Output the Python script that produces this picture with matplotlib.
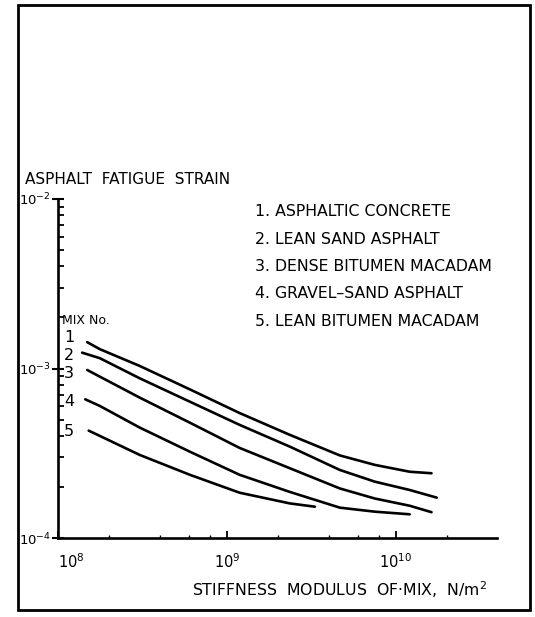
import matplotlib
matplotlib.use("Agg")
import matplotlib.pyplot as plt
from matplotlib.patches import Rectangle
from matplotlib.ticker import LogLocator, NullFormatter

plt.rcParams['font.family'] = ['DejaVu Sans']

# stiffness modulus (N/m2) and fatigue strain
mix1_E = [1.49e8, 1.77e8, 3.05e8, 6.04e8, 1.19e9, 2.36e9, 4.67e9, 7.52e9, 1.21e10, 1.63e10]
mix1_strain = [1.43e-3, 1.30e-3, 1.035e-3, 7.53e-4, 5.46e-4, 4.06e-4, 3.07e-4, 2.70e-4, 2.46e-4, 2.41e-4]

mix2_E = [1.39e8, 1.77e8, 3.05e8, 6.04e8, 1.19e9, 2.36e9, 4.67e9, 7.52e9, 1.21e10, 1.75e10]
mix2_strain = [1.24e-3, 1.15e-3, 8.75e-4, 6.37e-4, 4.65e-4, 3.46e-4, 2.52e-4, 2.15e-4, 1.92e-4, 1.73e-4]

mix3_E = [1.49e8, 1.77e8, 3.05e8, 6.04e8, 1.19e9, 2.36e9, 4.67e9, 7.52e9, 1.21e10, 1.63e10]
mix3_strain = [9.8e-4, 8.95e-4, 6.73e-4, 4.79e-4, 3.40e-4, 2.58e-4, 1.96e-4, 1.71e-4, 1.55e-4, 1.42e-4]

mix4_E = [1.45e8, 1.77e8, 3.05e8, 6.04e8, 1.19e9, 2.36e9, 4.67e9, 7.52e9, 1.21e10]
mix4_strain = [6.58e-4, 6.01e-4, 4.48e-4, 3.23e-4, 2.36e-4, 1.87e-4, 1.51e-4, 1.43e-4, 1.38e-4]

mix5_E = [1.52e8, 1.77e8, 3.05e8, 6.04e8, 1.19e9, 2.36e9, 3.32e9]
mix5_strain = [4.30e-4, 4.00e-4, 3.09e-4, 2.36e-4, 1.85e-4, 1.60e-4, 1.53e-4]

mix_names = ["1. ASPHALTIC CONCRETE", "2. LEAN SAND ASPHALT", "3. DENSE BITUMEN MACADAM",
             "4. GRAVEL\u2013SAND ASPHALT", "5. LEAN BITUMEN MACADAM"]
mix_numbers = ["1", "2", "3", "4", "5"]

# where the mix numbers sit, in pixels from the top-left corner
number_pos = [(69, 337), (69, 355), (69, 373), (69, 401), (69, 432)]

W, H = 535, 617
fig = plt.figure(figsize=(W / 100, H / 100), dpi=100)
ax = fig.add_axes([58 / W, 1 - 538 / H, 439 / W, 339 / H])

curves = [(mix1_E, mix1_strain), (mix2_E, mix2_strain), (mix3_E, mix3_strain),
          (mix4_E, mix4_strain), (mix5_E, mix5_strain)]
for (E, s), num, (px, py) in zip(curves, mix_numbers, number_pos):
    ax.plot(E, s, color='black', lw=1.9, solid_capstyle='round', solid_joinstyle='round')
    fig.text(px / W, 1 - py / H, num, ha='center', va='center', fontsize=11.5)

ax.set_xscale('log')
ax.set_yscale('log')
ax.set_xlim(1e8, 10 ** 10.6)
ax.set_ylim(1e-4, 1e-2)

for side in ['top', 'right']:
    ax.spines[side].set_visible(False)
for side in ['left', 'bottom']:
    ax.spines[side].set_linewidth(1.9)

ax.set_yticks([1e-4, 1e-3, 1e-2])
ax.set_yticklabels(['$10^{-4}$', '$10^{-3}$', '$10^{-2}$'])
ax.set_xticks([1e8, 1e9, 1e10])
ax.set_xticklabels(['$10^{8}$', '$10^{9}$', '$10^{10}$'])
ax.yaxis.set_minor_locator(LogLocator(base=10, subs=range(2, 10)))
ax.xaxis.set_minor_locator(LogLocator(base=10, subs=[2, 4, 6, 8]))
ax.yaxis.set_minor_formatter(NullFormatter())
ax.xaxis.set_minor_formatter(NullFormatter())
ax.tick_params(axis='y', which='major', direction='inout', length=8, width=1.5, labelsize=9.5, pad=1)
ax.tick_params(axis='y', which='minor', direction='in', length=4, width=1.3)
ax.tick_params(axis='x', which='major', direction='in', length=5, width=1.3, labelsize=10.5, pad=10)
ax.tick_params(axis='x', which='minor', direction='in', length=2.5, width=1.0)
# the 10^8 label sits a little right of the corner in the original
ax.get_xticklabels()[0].set_horizontalalignment('left')

fig.text(25 / W, 1 - 180 / H, "ASPHALT  FATIGUE  STRAIN", fontsize=11, ha='left', va='center')
fig.text(62 / W, 1 - 320 / H, "MIX No.", fontsize=9, ha='left', va='center')
for i, name in enumerate(mix_names):
    fig.text(255 / W, 1 - (212 + 27.3 * i) / H, name, fontsize=11.3, ha='left', va='center')
fig.text(192 / W, 1 - 590 / H, "STIFFNESS  MODULUS  OF\u00b7MIX,  N/m$^2$", fontsize=11.3,
         ha='left', va='center')

fig.patches.append(Rectangle((18 / W, 1 - 610 / H), 512 / W, 605 / H,
                             transform=fig.transFigure, fill=False, lw=2, edgecolor='black'))

fig.savefig("out.png", dpi=100)
